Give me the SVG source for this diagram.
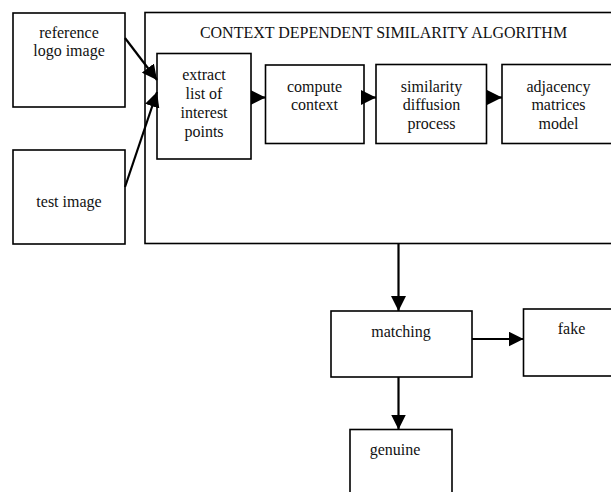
<svg xmlns="http://www.w3.org/2000/svg" width="611" height="492" viewBox="0 0 611 492">
<style>
.box{fill:#fff;stroke:#000;stroke-width:1.6}
.frame{fill:none;stroke:#000;stroke-width:1.6}
text{font-family:"Liberation Serif","Times New Roman",serif;font-size:16px;fill:#111;text-anchor:middle}
.c{stroke:#000;stroke-width:2.2;fill:none;marker-end:url(#ah)}
</style>
<defs>
<marker id="ah" markerUnits="userSpaceOnUse" markerWidth="15" markerHeight="15" refX="15" refY="7.5" orient="auto" viewBox="0 0 15 15">
<path d="M0,0 L15,7.5 L0,15 z" fill="#000"/>
</marker>
</defs>
<g id="algorithm">
<rect class="frame" x="145" y="12.5" width="480" height="231"/>
<text x="383.5" y="37.5">CONTEXT DEPENDENT SIMILARITY ALGORITHM</text>
</g>
<g id="reference-logo">
<rect class="box" x="13" y="13" width="112" height="94"/>
<text x="69" y="38">reference</text>
<text x="69" y="56">logo image</text>
</g>
<g id="test-image">
<rect class="box" x="13" y="150" width="112" height="94"/>
<text x="69" y="207">test image</text>
</g>
<g id="extract">
<rect class="box" x="157" y="53.5" width="94" height="105.5"/>
<text x="204" y="80">extract</text>
<text x="204" y="99">list of</text>
<text x="204" y="118">interest</text>
<text x="204" y="137">points</text>
</g>
<g id="compute">
<rect class="box" x="265.5" y="65" width="98.5" height="78.5"/>
<text x="314.5" y="92">compute</text>
<text x="314.5" y="110">context</text>
</g>
<g id="diffusion">
<rect class="box" x="376" y="64.5" width="110.5" height="79"/>
<text x="431.5" y="92">similarity</text>
<text x="431.5" y="110">diffusion</text>
<text x="431.5" y="129">process</text>
</g>
<g id="adjacency">
<rect class="box" x="502" y="64.5" width="113" height="79"/>
<text x="558.5" y="92">adjacency</text>
<text x="558.5" y="110">matrices</text>
<text x="558.5" y="129">model</text>
</g>
<g id="matching">
<rect class="box" x="331" y="311" width="141" height="66"/>
<text x="401" y="337">matching</text>
</g>
<g id="fake">
<rect class="box" x="523.5" y="309" width="97" height="67"/>
<text x="571.5" y="334">fake</text>
</g>
<g id="genuine">
<rect class="box" x="350" y="429.5" width="102" height="70"/>
<text x="395" y="455">genuine</text>
</g>
<g id="connectors">
<line class="c" x1="125" y1="38" x2="157" y2="80"/>
<line class="c" x1="125" y1="187" x2="157" y2="92"/>
<line class="c" x1="251" y1="97.5" x2="265.5" y2="97.5"/>
<line class="c" x1="364" y1="97.5" x2="376" y2="97.5"/>
<line class="c" x1="486.5" y1="97.5" x2="502" y2="97.5"/>
<line class="c" x1="398.5" y1="244" x2="398.5" y2="311"/>
<line class="c" x1="472" y1="339" x2="523.5" y2="339"/>
<line class="c" x1="398.5" y1="377" x2="398.5" y2="429.5"/>
</g>
</svg>
